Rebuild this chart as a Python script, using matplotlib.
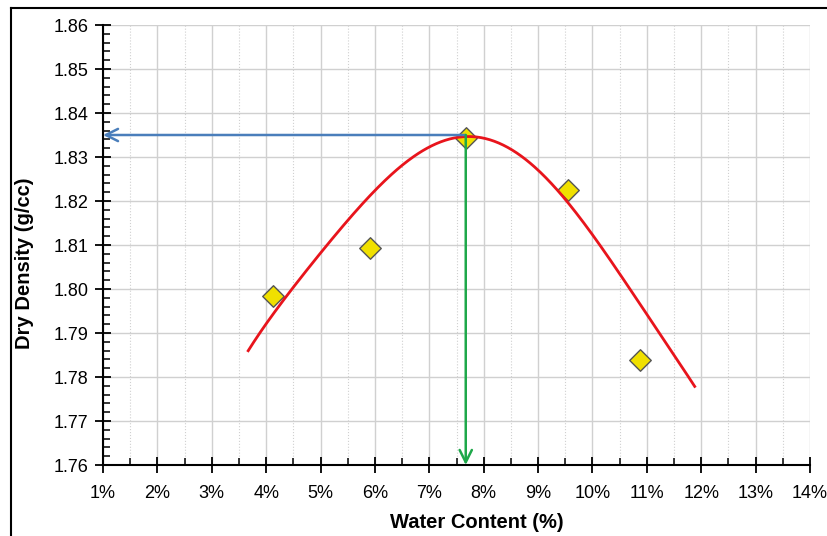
import numpy as np
import matplotlib.pyplot as plt
from matplotlib.ticker import MultipleLocator, FuncFormatter

# compaction test results
water_content = [4.12, 5.91, 7.67, 9.55, 10.87]         # %
dry_density = [1.7984, 1.8094, 1.8343, 1.8225, 1.7839]  # g/cc

# compaction curve
curve_wc = [3.67, 4.25, 4.99, 5.48, 5.97, 6.58, 7.07, 7.50, 7.69,
            7.87, 8.48, 8.97, 9.52, 10.01, 10.63, 11.24, 11.88]
curve_dd = [1.7861, 1.7960, 1.8081, 1.8157, 1.8221, 1.8286, 1.8323, 1.8343, 1.8348,
            1.8346, 1.8323, 1.8278, 1.8195, 1.8119, 1.8013, 1.7899, 1.7778]

# optimum water content and maximum dry density
omc = 7.67
mdd = 1.835

plt.rcParams['font.family'] = ['Liberation Sans', 'DejaVu Sans']

fig = plt.figure(figsize=(8.27, 5.36), dpi=100)
ax = fig.add_axes([103 / 827, 1 - 465 / 536, 707 / 827, 440 / 536])

ax.scatter(water_content, dry_density, marker='D', s=120, color='#f0e000',
           edgecolor='#555555', linewidth=1, zorder=3)

# smooth the curve readings
coef = np.polyfit(curve_wc, curve_dd, 6)
xs = np.linspace(curve_wc[0], curve_wc[-1], 400)
ax.plot(xs, np.polyval(coef, xs), color='#e8141c', lw=2, zorder=4)

ax.annotate('', xy=(1, mdd), xytext=(omc, mdd),
            arrowprops=dict(arrowstyle='->', color='#4a7ebb', lw=1.8,
                            mutation_scale=22, shrinkA=0, shrinkB=0), zorder=5)
ax.annotate('', xy=(omc, 1.76), xytext=(omc, mdd),
            arrowprops=dict(arrowstyle='->', color='#1ea84a', lw=1.8,
                            mutation_scale=22, shrinkA=0, shrinkB=0), zorder=5)

ax.set_xlim(1, 14)
ax.set_ylim(1.76, 1.86)
ax.xaxis.set_major_locator(MultipleLocator(1))
ax.xaxis.set_minor_locator(MultipleLocator(0.5))
ax.yaxis.set_major_locator(MultipleLocator(0.01))
ax.yaxis.set_minor_locator(MultipleLocator(0.002))
ax.xaxis.set_major_formatter(FuncFormatter(lambda v, p: f'{v:.0f}%'))
ax.yaxis.set_major_formatter(FuncFormatter(lambda v, p: f'{v:.2f}'))

ax.grid(which='major', color='#d0d0d0', lw=1)
ax.grid(which='minor', axis='x', color='#d0d0d0', lw=0.8, ls=':')
ax.set_axisbelow(True)

for s in ['top', 'right']:
    ax.spines[s].set_visible(False)
for s in ['left', 'bottom']:
    ax.spines[s].set_linewidth(1.5)

ax.tick_params(which='major', direction='inout', length=11, width=1.3,
               labelsize=13, pad=5)
ax.tick_params(axis='x', which='major', pad=9)
ax.tick_params(which='minor', direction='in', length=5, width=1.1)

ax.set_xlabel('Water Content (%)', fontsize=14.5, fontweight='bold')
ax.set_ylabel('Dry Density (g/cc)', fontsize=14.5, fontweight='bold')
ax.xaxis.set_label_coords(477 / 827, 1 - 522 / 536, transform=fig.transFigure)
ax.yaxis.set_label_coords(25 / 827, 1 - 263 / 536, transform=fig.transFigure)
ax.xaxis.label.set_va('center')
ax.yaxis.label.set_va('center')

# frame lines along the top and left of the figure
fig.add_artist(plt.Line2D([11 / 827, 11 / 827], [0, 1 - 8 / 536],
                          transform=fig.transFigure, color='black', lw=1.5))
fig.add_artist(plt.Line2D([11 / 827, 1], [1 - 8 / 536, 1 - 8 / 536],
                          transform=fig.transFigure, color='black', lw=1.5))

fig.savefig('out.png', dpi=100)
